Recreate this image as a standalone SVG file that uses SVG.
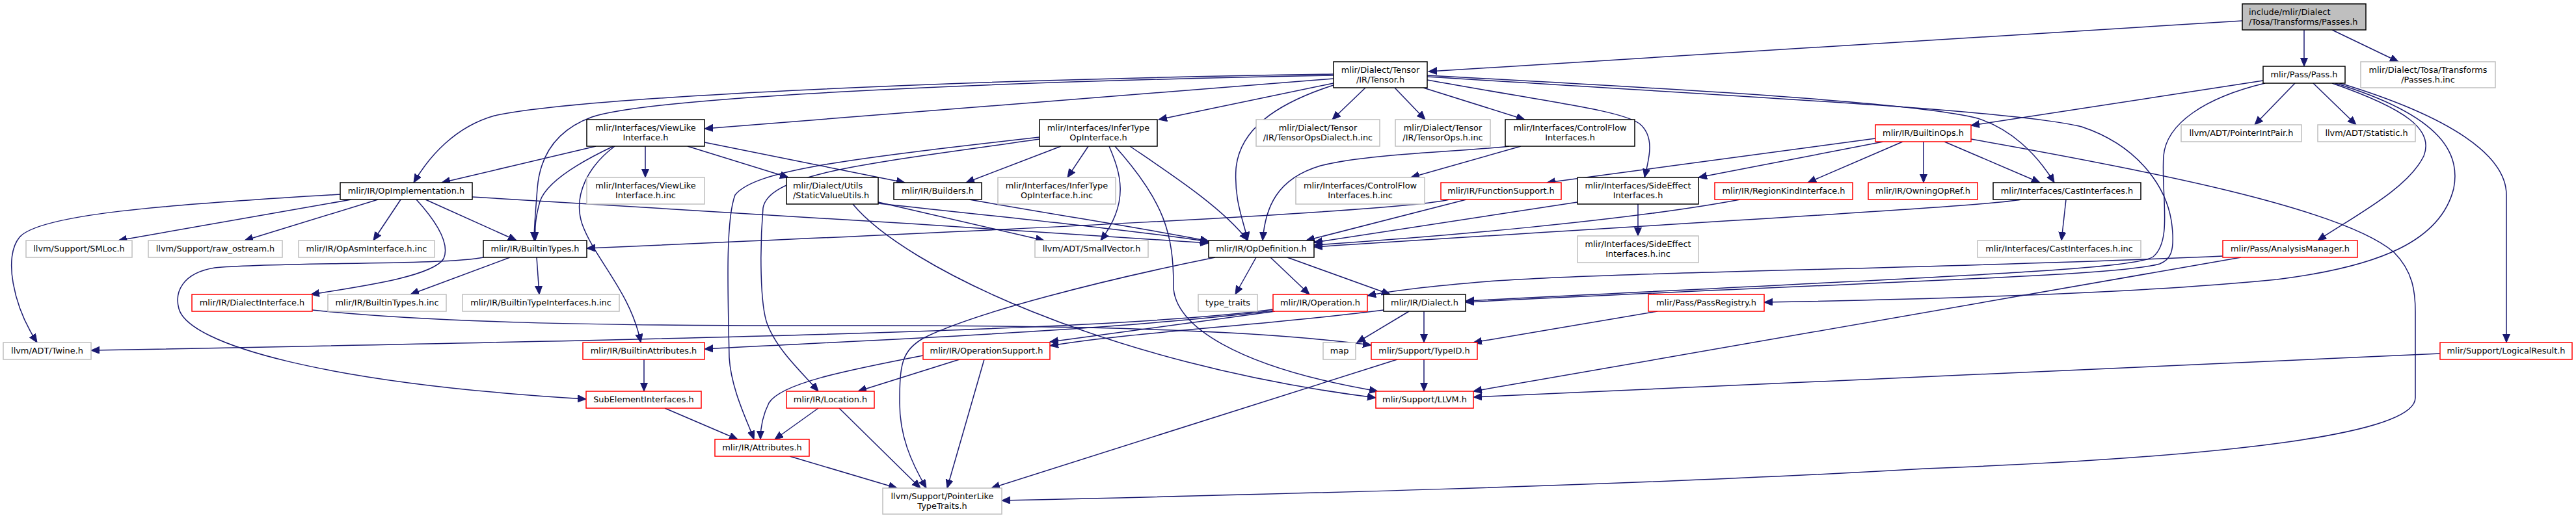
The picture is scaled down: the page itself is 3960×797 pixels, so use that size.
<svg xmlns="http://www.w3.org/2000/svg" width="3960" height="797" viewBox="0 0 3960 797">
<style>
.e{fill:none;stroke:#191970;stroke-width:1.5;marker-end:url(#a)}
.b{fill:#fff;stroke:#000;stroke-width:1.5}
.g{fill:#fff;stroke:#bfbfbf;stroke-width:1.5}
.r{fill:#fff;stroke:#ff0000;stroke-width:1.5}
.root{fill:#bfbfbf;stroke:#000;stroke-width:1.5}
text{font-family:"DejaVu Sans",sans-serif;font-size:12.9px;fill:#000;text-anchor:middle}
text.l{text-anchor:start}
</style>
<defs>
<marker id="a" markerUnits="userSpaceOnUse" markerWidth="14" markerHeight="12" refX="13" refY="5.5" orient="auto"><path d="M0,0L13,5.5L0,11z" fill="#191970" stroke="#191970" stroke-width="1"/></marker>
</defs>
<rect width="3960" height="797" fill="#fff"/>
<g id="edges">
<path class="e" d="M3447,32 L2196,110"/>
<path class="e" d="M3542,46 L3542,102"/>
<path class="e" d="M3585,46 L3687,95"/>
<path class="e" d="M3479,124 L3030,193"/>
<path class="e" d="M3528,128 L3466,192"/>
<path class="e" d="M3556,128 L3622,192"/>
<path class="e" d="M3482,128 C3390,150 3330,190 3326,240 C3322,300 3340,370 3310,395 C3280,415 3000,425 2253,463"/>
<path class="e" d="M2194,118 C2700,150 3100,170 3200,195 C3290,225 3330,290 3338,340 C3345,390 3335,400 3320,406 C3250,425 2950,430 2253,465"/>
<path class="e" d="M2099,135 L2048,184"/>
<path class="e" d="M2144,135 L2191,184"/>
<path class="e" d="M2188,135 L2344,184"/>
<path class="e" d="M2194,123 C2400,160 2490,170 2520,190 C2545,210 2535,245 2528,273"/>
<path class="e" d="M2194,116 C2600,138 2950,158 3040,182 C3090,198 3130,235 3158,281"/>
<path class="e" d="M2050,131 C1960,160 1905,200 1900,260 C1897,310 1912,340 1918,370"/>
<path class="e" d="M2050,128 L1781,184"/>
<path class="e" d="M2050,121 L1083,198"/>
<path class="e" d="M2050,114 C1500,122 900,148 760,178 C700,195 660,240 636,281"/>
<path class="e" d="M2050,116 C1500,126 1000,150 910,180 C855,200 830,240 826,290 C823,330 821,350 821,370"/>
<path class="e" d="M916,225 L679,281"/>
<path class="e" d="M943,225 C890,250 840,280 830,310 C823,335 822,350 823,370"/>
<path class="e" d="M945,225 C905,255 880,300 895,345 C915,400 970,450 985,527"/>
<path class="e" d="M992,225 L992,273"/>
<path class="e" d="M1057,225 L1212,273"/>
<path class="e" d="M1083,219 L1391,281"/>
<path class="e" d="M540,307 L182,370"/>
<path class="e" d="M581,307 L376,370"/>
<path class="e" d="M616,307 L574,370"/>
<path class="e" d="M654,307 L794,370"/>
<path class="e" d="M640,307 C670,340 692,375 682,398 C665,425 560,440 478,453"/>
<path class="e" d="M523,299 C250,315 60,330 30,365 C5,395 20,470 57,527"/>
<path class="e" d="M726,303 C1000,322 1500,348 1858,374"/>
<path class="e" d="M1350,311 L1605,370"/>
<path class="e" d="M1350,313 C1550,335 1750,355 1858,372"/>
<path class="e" d="M1311,314 C1390,410 1700,560 2115,612"/>
<path class="e" d="M1490,307 C1650,335 1780,355 1858,371"/>
<path class="e" d="M1631,225 L1485,281"/>
<path class="e" d="M1673,225 L1641,273"/>
<path class="e" d="M1705,225 C1722,265 1738,310 1692,370"/>
<path class="e" d="M1714,225 C1790,310 1804,360 1804,440 C1804,500 1900,565 2118,602"/>
<path class="e" d="M1737,225 C1800,268 1880,320 1918,370"/>
<path class="e" d="M1598,211 C1300,245 1160,262 1130,300 C1115,340 1119,450 1121,550 C1124,600 1150,650 1159,676"/>
<path class="e" d="M1598,214 C1350,250 1182,265 1173,320 C1168,380 1168,470 1180,500 C1196,540 1232,572 1258,602"/>
<path class="e" d="M2338,225 L2169,273"/>
<path class="e" d="M2320,225 C2270,232 2100,236 2030,255 C1962,275 1945,320 1941,370"/>
<path class="e" d="M2254,307 L2008,370"/>
<path class="e" d="M2228,307 C2150,326 1500,356 902,382"/>
<path class="e" d="M2425,311 L2020,373"/>
<path class="e" d="M2518,314 L2518,363"/>
<path class="e" d="M2675,307 C2500,340 2200,365 2020,377"/>
<path class="e" d="M3107,307 C3050,318 2600,342 2020,380"/>
<path class="e" d="M3176,307 L3169,370"/>
<path class="e" d="M2883,213 L2378,281"/>
<path class="e" d="M2895,218 L2611,273"/>
<path class="e" d="M2925,218 L2779,281"/>
<path class="e" d="M2957,218 L2957,281"/>
<path class="e" d="M2989,218 L3136,281"/>
<path class="e" d="M3030,214 C3300,262 3600,320 3680,388 C3710,418 3713,450 3713,480 L3713,612 C3713,660 3500,700 2960,721 C2500,748 1900,762 1540,770"/>
<path class="e" d="M3585,128 C3700,168 3742,200 3726,240 C3702,290 3620,332 3563,370"/>
<path class="e" d="M3590,128 C3760,180 3782,240 3772,290 C3752,370 3660,410 3500,430 C3300,450 3000,460 2712,465"/>
<path class="e" d="M3594,127 C3770,180 3853,240 3853,300 L3853,527"/>
<path class="e" d="M3417,394 C3000,413 2500,418 2300,432 C2200,440 2140,447 2102,455"/>
<path class="e" d="M3445,396 L2265,602"/>
<path class="e" d="M2548,479 L2265,527"/>
<path class="e" d="M3751,544 L2265,611"/>
<path class="e" d="M2166,479 L2086,527"/>
<path class="e" d="M2189,479 L2189,527"/>
<path class="e" d="M2127,477 C1950,500 1750,510 1614,532"/>
<path class="e" d="M2189,553 L2189,602"/>
<path class="e" d="M2148,553 L1524,751"/>
<path class="e" d="M480,477 C650,495 900,502 1300,501 C1700,500 1950,510 2108,531"/>
<path class="e" d="M1957,476 C1750,505 1200,520 140,539"/>
<path class="e" d="M1957,478 C1700,510 1300,525 1083,537"/>
<path class="e" d="M1960,479 L1614,526"/>
<path class="e" d="M990,553 L990,602"/>
<path class="e" d="M743,396 C690,408 420,403 330,412 C280,420 268,450 275,475 C290,530 500,590 901,614"/>
<path class="e" d="M784,396 L631,453"/>
<path class="e" d="M825,396 L829,453"/>
<path class="e" d="M1022,628 L1134,676"/>
<path class="e" d="M1258,628 L1191,676"/>
<path class="e" d="M1290,628 L1415,751"/>
<path class="e" d="M1419,547 C1300,570 1200,590 1182,620 C1172,640 1169,660 1169,676"/>
<path class="e" d="M1475,553 L1319,602"/>
<path class="e" d="M1513,553 L1456,751"/>
<path class="e" d="M1214,702 L1379,751"/>
<path class="e" d="M1931,396 L1899,453"/>
<path class="e" d="M1953,396 L2013,453"/>
<path class="e" d="M1979,396 L2137,453"/>
<path class="e" d="M1868,396 C1700,430 1500,480 1420,520 C1386,540 1383,560 1383,620 C1383,670 1400,710 1424,751"/>
</g>
<g id="n_root"><rect class="root" x="3447" y="6" width="190" height="40"/><text class="l" x="3457" y="23">include/mlir/Dialect</text><text class="l" x="3457" y="38">/Tosa/Transforms/Passes.h</text></g>
<g id="n_tensor"><rect class="b" x="2050" y="95" width="144" height="40"/><text x="2122" y="112">mlir/Dialect/Tensor</text><text x="2122" y="127">/IR/Tensor.h</text></g>
<g id="n_pass"><rect class="b" x="3479" y="102" width="126" height="26"/><text x="3542" y="119">mlir/Pass/Pass.h</text></g>
<g id="n_tosainc"><rect class="g" x="3629" y="95" width="207" height="40"/><text x="3732.5" y="112">mlir/Dialect/Tosa/Transforms</text><text x="3732.5" y="127">/Passes.h.inc</text></g>
<g id="n_viewlike"><rect class="b" x="902" y="184" width="181" height="41"/><text x="992.5" y="201">mlir/Interfaces/ViewLike</text><text x="992.5" y="216">Interface.h</text></g>
<g id="n_infer"><rect class="b" x="1598" y="184" width="181" height="41"/><text x="1688.5" y="201">mlir/Interfaces/InferType</text><text x="1688.5" y="216">OpInterface.h</text></g>
<g id="n_tdinc"><rect class="g" x="1931" y="184" width="190" height="41"/><text x="2026" y="201">mlir/Dialect/Tensor</text><text x="2026" y="216">/IR/TensorOpsDialect.h.inc</text></g>
<g id="n_tinc"><rect class="g" x="2145" y="184" width="146" height="41"/><text x="2218" y="201">mlir/Dialect/Tensor</text><text x="2218" y="216">/IR/TensorOps.h.inc</text></g>
<g id="n_cf"><rect class="b" x="2314" y="184" width="199" height="41"/><text x="2413.5" y="201">mlir/Interfaces/ControlFlow</text><text x="2413.5" y="216">Interfaces.h</text></g>
<g id="n_builtinops"><rect class="r" x="2883" y="192" width="147" height="26"/><text x="2956.5" y="209">mlir/IR/BuiltinOps.h</text></g>
<g id="n_pip"><rect class="g" x="3353" y="192" width="185" height="26"/><text x="3445.5" y="209">llvm/ADT/PointerIntPair.h</text></g>
<g id="n_stat"><rect class="g" x="3563" y="192" width="150" height="26"/><text x="3638" y="209">llvm/ADT/Statistic.h</text></g>
<g id="n_opimpl"><rect class="b" x="523" y="281" width="203" height="26"/><text x="624.5" y="298">mlir/IR/OpImplementation.h</text></g>
<g id="n_viewlikeinc"><rect class="g" x="902" y="273" width="181" height="41"/><text x="992.5" y="290">mlir/Interfaces/ViewLike</text><text x="992.5" y="305">Interface.h.inc</text></g>
<g id="n_svu"><rect class="b" x="1209" y="273" width="141" height="41"/><text class="l" x="1219" y="290">mlir/Dialect/Utils</text><text class="l" x="1219" y="305">/StaticValueUtils.h</text></g>
<g id="n_builders"><rect class="b" x="1374" y="281" width="135" height="26"/><text x="1441.5" y="298">mlir/IR/Builders.h</text></g>
<g id="n_inferinc"><rect class="g" x="1534" y="273" width="181" height="41"/><text x="1624.5" y="290">mlir/Interfaces/InferType</text><text x="1624.5" y="305">OpInterface.h.inc</text></g>
<g id="n_cfinc"><rect class="g" x="1992" y="273" width="198" height="41"/><text x="2091" y="290">mlir/Interfaces/ControlFlow</text><text x="2091" y="305">Interfaces.h.inc</text></g>
<g id="n_funcsup"><rect class="r" x="2215" y="281" width="185" height="26"/><text x="2307.5" y="298">mlir/IR/FunctionSupport.h</text></g>
<g id="n_sideeff"><rect class="b" x="2425" y="273" width="186" height="41"/><text x="2518" y="290">mlir/Interfaces/SideEffect</text><text x="2518" y="305">Interfaces.h</text></g>
<g id="n_regionkind"><rect class="r" x="2636" y="281" width="212" height="26"/><text x="2742" y="298">mlir/IR/RegionKindInterface.h</text></g>
<g id="n_owning"><rect class="r" x="2872" y="281" width="168" height="26"/><text x="2956" y="298">mlir/IR/OwningOpRef.h</text></g>
<g id="n_cast"><rect class="b" x="3064" y="281" width="227" height="26"/><text x="3177.5" y="298">mlir/Interfaces/CastInterfaces.h</text></g>
<g id="n_smloc"><rect class="g" x="40" y="370" width="163" height="26"/><text x="121.5" y="387">llvm/Support/SMLoc.h</text></g>
<g id="n_rawos"><rect class="g" x="228" y="370" width="206" height="26"/><text x="331" y="387">llvm/Support/raw_ostream.h</text></g>
<g id="n_opasminc"><rect class="g" x="459" y="370" width="209" height="26"/><text x="563.5" y="387">mlir/IR/OpAsmInterface.h.inc</text></g>
<g id="n_btypes"><rect class="b" x="743" y="370" width="159" height="26"/><text x="822.5" y="387">mlir/IR/BuiltinTypes.h</text></g>
<g id="n_smallvec"><rect class="g" x="1591" y="370" width="174" height="26"/><text x="1678" y="387">llvm/ADT/SmallVector.h</text></g>
<g id="n_opdef"><rect class="b" x="1858" y="370" width="162" height="26"/><text x="1939" y="387">mlir/IR/OpDefinition.h</text></g>
<g id="n_sideeffinc"><rect class="g" x="2425" y="363" width="186" height="41"/><text x="2518" y="380">mlir/Interfaces/SideEffect</text><text x="2518" y="395">Interfaces.h.inc</text></g>
<g id="n_castinc"><rect class="g" x="3040" y="370" width="251" height="26"/><text x="3165.5" y="387">mlir/Interfaces/CastInterfaces.h.inc</text></g>
<g id="n_am"><rect class="r" x="3417" y="370" width="207" height="26"/><text x="3520.5" y="387">mlir/Pass/AnalysisManager.h</text></g>
<g id="n_dialectif"><rect class="r" x="295" y="453" width="185" height="26"/><text x="387.5" y="470">mlir/IR/DialectInterface.h</text></g>
<g id="n_btypesinc"><rect class="g" x="504" y="453" width="182" height="26"/><text x="595" y="470">mlir/IR/BuiltinTypes.h.inc</text></g>
<g id="n_btiinc"><rect class="g" x="711" y="453" width="241" height="26"/><text x="831.5" y="470">mlir/IR/BuiltinTypeInterfaces.h.inc</text></g>
<g id="n_typetraits"><rect class="g" x="1842" y="453" width="91" height="26"/><text x="1887.5" y="470">type_traits</text></g>
<g id="n_operation"><rect class="r" x="1957" y="453" width="145" height="26"/><text x="2029.5" y="470">mlir/IR/Operation.h</text></g>
<g id="n_dialect"><rect class="b" x="2127" y="453" width="126" height="26"/><text x="2190" y="470">mlir/IR/Dialect.h</text></g>
<g id="n_passreg"><rect class="r" x="2534" y="453" width="178" height="26"/><text x="2623" y="470">mlir/Pass/PassRegistry.h</text></g>
<g id="n_twine"><rect class="g" x="5" y="527" width="135" height="26"/><text x="72.5" y="544">llvm/ADT/Twine.h</text></g>
<g id="n_battrs"><rect class="r" x="896" y="527" width="187" height="26"/><text x="989.5" y="544">mlir/IR/BuiltinAttributes.h</text></g>
<g id="n_opsup"><rect class="r" x="1419" y="527" width="195" height="26"/><text x="1516.5" y="544">mlir/IR/OperationSupport.h</text></g>
<g id="n_map"><rect class="g" x="2034" y="527" width="50" height="26"/><text x="2059" y="544">map</text></g>
<g id="n_typeid"><rect class="r" x="2108" y="527" width="163" height="26"/><text x="2189.5" y="544">mlir/Support/TypeID.h</text></g>
<g id="n_lr"><rect class="r" x="3751" y="527" width="203" height="26"/><text x="3852.5" y="544">mlir/Support/LogicalResult.h</text></g>
<g id="n_subelem"><rect class="r" x="901" y="602" width="177" height="26"/><text x="989.5" y="619">SubElementInterfaces.h</text></g>
<g id="n_location"><rect class="r" x="1209" y="602" width="135" height="26"/><text x="1276.5" y="619">mlir/IR/Location.h</text></g>
<g id="n_llvm"><rect class="r" x="2115" y="602" width="150" height="26"/><text x="2190" y="619">mlir/Support/LLVM.h</text></g>
<g id="n_attrs"><rect class="r" x="1099" y="676" width="145" height="26"/><text x="1171.5" y="693">mlir/IR/Attributes.h</text></g>
<g id="n_plike"><rect class="g" x="1357" y="751" width="183" height="40"/><text x="1448.5" y="768">llvm/Support/PointerLike</text><text x="1448.5" y="783">TypeTraits.h</text></g>
</svg>
